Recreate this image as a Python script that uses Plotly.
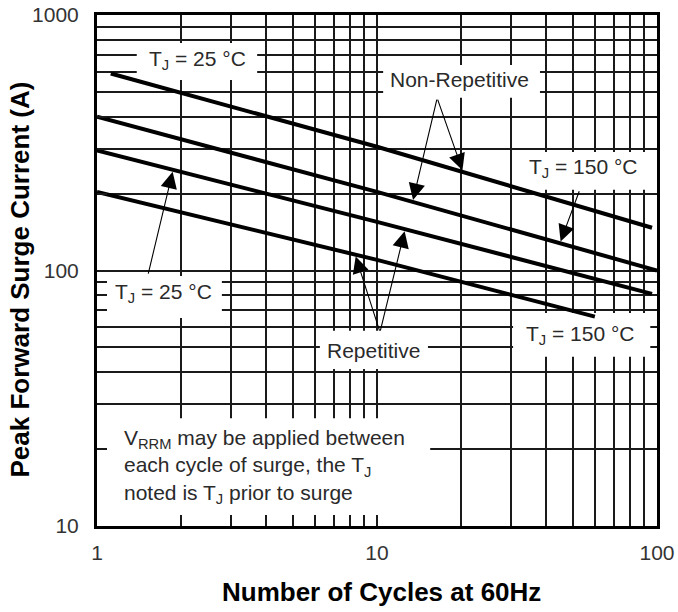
import numpy as np
import plotly.graph_objects as go

# ---------------- data ----------------
cycles_nr25 = [1.12, 10, 96]
current_nr25 = [590, 305, 147]          # Non-repetitive, TJ = 25 °C

cycles_nr150 = [1, 10, 100]
current_nr150 = [400, 203, 100]         # Non-repetitive, TJ = 150 °C

cycles_r25 = [1, 10, 96]
current_r25 = [295, 155, 81]            # Repetitive, TJ = 25 °C

cycles_r150 = [1, 10, 60]
current_r150 = [203, 110, 66]           # Repetitive, TJ = 150 °C

x_tick_vals = [1, 10, 100]
x_tick_text = ["1", "10", "100"]
y_tick_vals = [10, 100, 1000]
y_tick_text = ["10", "100", "1000"]
x_minor = [2, 3, 4, 5, 6, 7, 8, 9, 20, 30, 40, 50, 60, 70, 80, 90]
y_minor = [20, 30, 40, 50, 60, 70, 80, 90, 200, 300, 400, 500, 600, 700, 800, 900]

FONT = "Liberation Sans, Arial, sans-serif"
TXT = "#2a2a2a"
X_RANGE = [0, 2]   # log10
Y_RANGE = [1, 3]   # log10

series = [
    (cycles_nr25, current_nr25),
    (cycles_nr150, current_nr150),
    (cycles_r25, current_r25),
    (cycles_r150, current_r150),
]

fig = go.Figure()
for xs, ys in series:
    fig.add_trace(go.Scatter(x=xs, y=ys, mode="lines",
                             line=dict(color="black", width=4),
                             showlegend=False, hoverinfo="skip"))


def on_line(idx, xv):
    xs, ys = series[idx]
    return 10 ** np.interp(np.log10(xv), np.log10(xs), np.log10(ys))


def fx2d(f):
    return 10 ** (X_RANGE[0] + f * (X_RANGE[1] - X_RANGE[0]))


def fy2d(f):
    return 10 ** (Y_RANGE[0] + f * (Y_RANGE[1] - Y_RANGE[0]))


# white label boxes (fractions of plot area) -- over grid, under lines
boxes = [
    (0.071, 0.286, 0.873, 0.945),
    (0.511, 0.791, 0.838, 0.902),
    (0.752, 0.991, 0.658, 0.732),
    (0.0125, 0.223, 0.407, 0.489),
    (0.398, 0.591, 0.307, 0.382),
    (0.743, 0.988, 0.331, 0.417),
    (0.0107, 0.595, 0.0215, 0.211),
]
for x0, x1, y0, y1 in boxes:
    fig.add_shape(type="rect", xref="x", yref="y",
                  x0=fx2d(x0), x1=fx2d(x1), y0=fy2d(y0), y1=fy2d(y1),
                  fillcolor="white", line=dict(width=0), layer="between")

labels = [
    ("T<sub>J</sub> = 25 °C", 0.1786, 0.912),
    ("Non-Repetitive", 0.6482, 0.873),
    ("T<sub>J</sub> = 150 °C", 0.8679, 0.701),
    ("T<sub>J</sub> = 25 °C", 0.1179, 0.456),
    ("Repetitive", 0.4946, 0.3444),
    ("T<sub>J</sub> = 150 °C", 0.8625, 0.3738),
]
for text, fx, fy in labels:
    fig.add_annotation(text=text, xref="x domain", yref="y domain", x=fx, y=fy,
                       showarrow=False, xanchor="center", yanchor="middle",
                       font=dict(family=FONT, size=21, color=TXT))

fig.add_annotation(
    text="V<sub>RRM</sub> may be applied between<br>each cycle of surge, the T<sub>J</sub><br>noted is T<sub>J</sub> prior to surge",
    xref="x domain", yref="y domain", x=0.0446, y=0.1174, showarrow=False,
    xanchor="left", yanchor="middle", align="left",
    font=dict(family=FONT, size=21, color=TXT))

# arrows: (line index, tip x, tail x, tail y)
arrows = [
    (1, 13.4, 16.4, 473),
    (0, 20.3, 16.4, 473),
    (1, 45.0, 53.0, 207),
    (2, 1.87, 1.52, 96),
    (3, 8.35, 10.25, 57.4),
    (2, 12.6, 10.25, 57.4),
]
for idx, tx, ax_, ay_ in arrows:
    ty = on_line(idx, tx)
    fig.add_annotation(x=np.log10(tx), y=np.log10(ty), xref="x", yref="y",
                       ax=np.log10(ax_), ay=np.log10(ay_), axref="x", ayref="y",
                       text="", showarrow=True, arrowhead=2, arrowsize=3.0,
                       arrowwidth=1.1, arrowcolor="black", standoff=2)

# axis titles
fig.add_annotation(text="<b>Number of Cycles at 60Hz</b>", xref="paper", yref="paper",
                   x=0.5, y=0, xanchor="center", yanchor="middle", xshift=4, yshift=-66,
                   showarrow=False, font=dict(family=FONT, size=26, color="black"))
fig.add_annotation(text="<b>Peak Forward Surge Current (A)</b>", xref="paper", yref="paper",
                   x=0, y=0.5, xanchor="center", yanchor="middle", xshift=-78, yshift=-9,
                   textangle=-90, showarrow=False,
                   font=dict(family=FONT, size=26, color="black"))

axis_common = dict(
    showline=True, mirror=True, linecolor="black", linewidth=3,
    showgrid=True, gridcolor="#1a1a1a", gridwidth=1.8,
    tickfont=dict(family=FONT, size=21, color="#333"),
    zeroline=False,
)
minor_common = dict(tickmode="array", showgrid=True, gridcolor="#1a1a1a", gridwidth=1.8,
                    ticks="inside", ticklen=10, tickcolor="#1a1a1a", tickwidth=1.8)

fig.update_xaxes(type="log", range=X_RANGE, tickvals=x_tick_vals, ticktext=x_tick_text,
                 ticks="inside", ticklen=10, tickcolor="#1a1a1a", tickwidth=1.8,
                 ticklabelstandoff=6, minor=dict(tickvals=x_minor, **minor_common),
                 **axis_common)
fig.update_yaxes(type="log", range=Y_RANGE, tickvals=y_tick_vals, ticktext=y_tick_text,
                 ticks="outside", ticklen=11, tickcolor="rgba(0,0,0,0)", tickwidth=1,
                 minor=dict(tickvals=y_minor, **minor_common),
                 **axis_common)

fig.update_layout(
    width=678, height=612,
    margin=dict(l=97, r=21, t=15, b=86, autoexpand=False),
    plot_bgcolor="white", paper_bgcolor="white",
    showlegend=False,
)

fig.write_html("out.html")
